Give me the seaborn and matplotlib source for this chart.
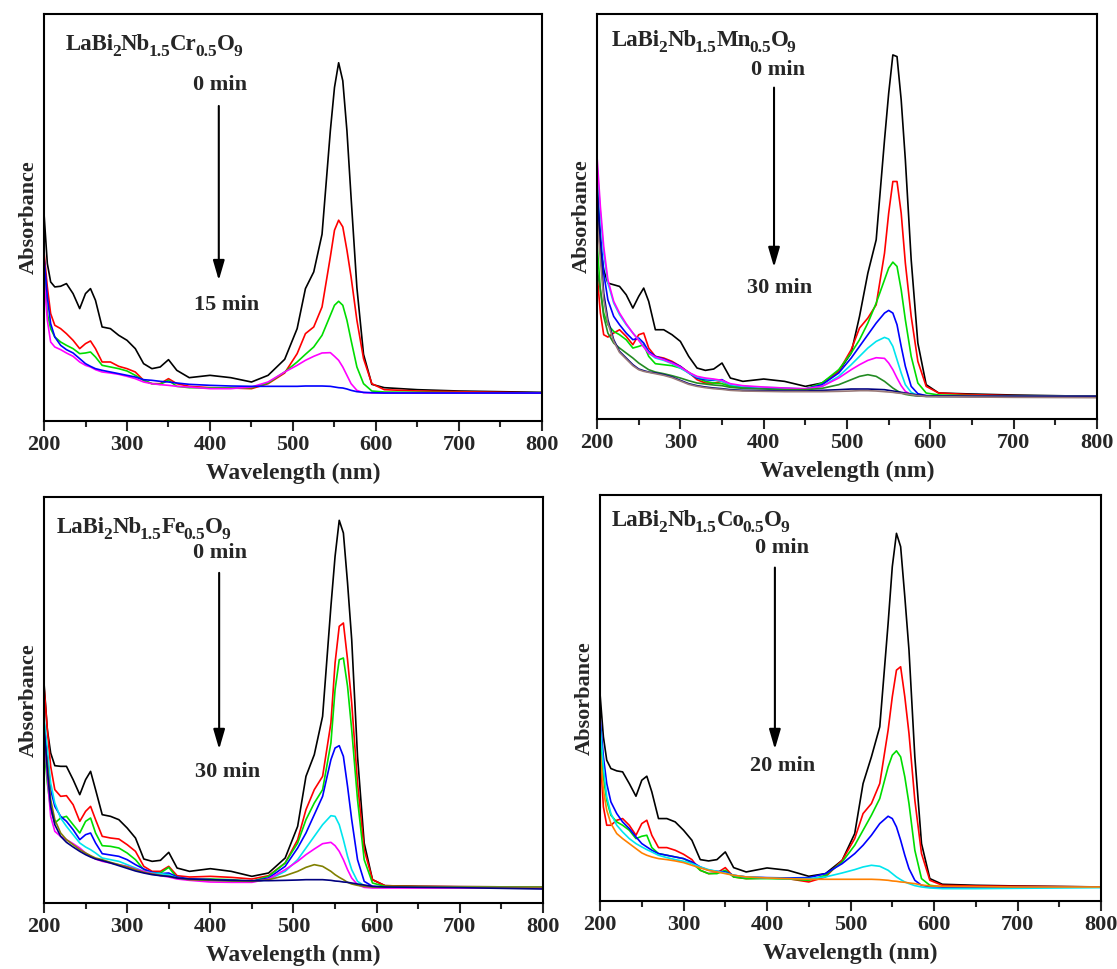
import matplotlib
matplotlib.use("Agg")
import matplotlib.pyplot as plt
import seaborn as sns

# wavelength grid (nm) shared by every spectrum
WL = [200, 204, 208, 213, 220, 227, 235, 243, 250, 256,
      262, 270, 280, 290, 300, 310, 320, 330, 340, 350,
      360, 375, 400, 425, 450, 470, 490, 505, 515, 525,
      535, 545, 550, 555, 560, 565, 570, 577, 585, 595,
      610, 650, 700, 800]

# ---- LaBi2Nb1.5Cr0.5O9 (0 -> 15 min) ----
CR_BLACK = [0.622, 0.472, 0.417, 0.402, 0.404, 0.412, 0.382, 0.337, 0.382, 0.397,
            0.362, 0.282, 0.277, 0.257, 0.242, 0.217, 0.172, 0.157, 0.162, 0.184,
            0.152, 0.130, 0.137, 0.130, 0.117, 0.137, 0.185, 0.277, 0.397, 0.447,
            0.560, 0.870, 1.000, 1.074, 1.020, 0.870, 0.670, 0.400, 0.200, 0.110,
            0.100, 0.094, 0.090, 0.086]
CR_RED = [0.507, 0.402, 0.322, 0.287, 0.277, 0.262, 0.242, 0.217, 0.232, 0.240,
          0.217, 0.177, 0.177, 0.164, 0.157, 0.147, 0.122, 0.112, 0.112, 0.127,
          0.112, 0.104, 0.100, 0.099, 0.097, 0.112, 0.144, 0.202, 0.262, 0.282,
          0.342, 0.492, 0.572, 0.602, 0.582, 0.512, 0.432, 0.302, 0.187, 0.112,
          0.094, 0.090, 0.088, 0.084]
CR_GREEN = [0.462, 0.322, 0.277, 0.252, 0.237, 0.227, 0.217, 0.202, 0.204, 0.207,
            0.192, 0.167, 0.162, 0.157, 0.150, 0.137, 0.122, 0.112, 0.110, 0.122,
            0.104, 0.100, 0.099, 0.099, 0.100, 0.114, 0.147, 0.177, 0.200, 0.222,
            0.257, 0.317, 0.347, 0.359, 0.347, 0.302, 0.242, 0.162, 0.112, 0.090,
            0.087, 0.086, 0.085, 0.084]
CR_MAGENTA = [0.432, 0.302, 0.237, 0.222, 0.214, 0.204, 0.194, 0.177, 0.167, 0.162,
              0.154, 0.147, 0.144, 0.140, 0.134, 0.127, 0.117, 0.112, 0.109, 0.107,
              0.104, 0.102, 0.097, 0.097, 0.102, 0.117, 0.147, 0.167, 0.182, 0.194,
              0.204, 0.205, 0.194, 0.182, 0.162, 0.137, 0.112, 0.092, 0.085, 0.084,
              0.084, 0.084, 0.084, 0.084]
CR_BLUE = [0.492, 0.372, 0.292, 0.252, 0.227, 0.214, 0.204, 0.187, 0.172, 0.164,
           0.157, 0.152, 0.147, 0.142, 0.137, 0.132, 0.124, 0.122, 0.119, 0.117,
           0.114, 0.110, 0.107, 0.105, 0.104, 0.104, 0.104, 0.104, 0.105, 0.105,
           0.105, 0.104, 0.102, 0.100, 0.099, 0.096, 0.092, 0.088, 0.086, 0.085,
           0.084, 0.084, 0.084, 0.084]

# ---- LaBi2Nb1.5Mn0.5O9 (0 -> 30 min) ----
MN_BLACK = [0.620, 0.518, 0.448, 0.408, 0.403, 0.398, 0.373, 0.333, 0.368, 0.393,
            0.353, 0.268, 0.268, 0.253, 0.233, 0.188, 0.153, 0.146, 0.150, 0.168,
            0.123, 0.113, 0.120, 0.113, 0.098, 0.108, 0.143, 0.198, 0.308, 0.438,
            0.538, 0.838, 0.978, 1.093, 1.088, 0.958, 0.778, 0.478, 0.228, 0.103,
            0.078, 0.075, 0.072, 0.068]
MN_RED = [0.438, 0.318, 0.253, 0.246, 0.258, 0.268, 0.248, 0.223, 0.253, 0.258,
          0.213, 0.188, 0.183, 0.173, 0.158, 0.140, 0.118, 0.108, 0.108, 0.113,
          0.100, 0.096, 0.093, 0.092, 0.088, 0.103, 0.143, 0.208, 0.273, 0.303,
          0.343, 0.498, 0.618, 0.713, 0.713, 0.618, 0.468, 0.308, 0.173, 0.098,
          0.078, 0.073, 0.070, 0.068]
MN_GREEN = [0.528, 0.388, 0.318, 0.283, 0.263, 0.253, 0.238, 0.213, 0.218, 0.223,
            0.188, 0.166, 0.163, 0.160, 0.153, 0.140, 0.123, 0.113, 0.108, 0.106,
            0.098, 0.095, 0.093, 0.091, 0.090, 0.108, 0.148, 0.198, 0.238, 0.288,
            0.348, 0.418, 0.453, 0.471, 0.458, 0.388, 0.298, 0.188, 0.108, 0.078,
            0.072, 0.070, 0.069, 0.068]
MN_BLUE = [0.718, 0.558, 0.438, 0.358, 0.308, 0.283, 0.258, 0.238, 0.243, 0.228,
           0.203, 0.188, 0.180, 0.170, 0.158, 0.138, 0.123, 0.118, 0.116, 0.118,
           0.103, 0.098, 0.093, 0.091, 0.090, 0.103, 0.138, 0.183, 0.218, 0.253,
           0.288, 0.318, 0.326, 0.318, 0.283, 0.218, 0.158, 0.098, 0.076, 0.070,
           0.068, 0.068, 0.068, 0.068]
MN_CYAN = [0.760, 0.618, 0.498, 0.408, 0.348, 0.313, 0.283, 0.258, 0.238, 0.218,
           0.198, 0.183, 0.176, 0.166, 0.153, 0.138, 0.126, 0.121, 0.118, 0.113,
           0.103, 0.098, 0.095, 0.093, 0.090, 0.098, 0.128, 0.163, 0.188, 0.213,
           0.233, 0.245, 0.240, 0.218, 0.178, 0.138, 0.103, 0.080, 0.071, 0.068,
           0.068, 0.068, 0.068, 0.068]
MN_MAGENTA = [0.788, 0.638, 0.518, 0.418, 0.353, 0.318, 0.286, 0.258, 0.236, 0.216,
              0.198, 0.186, 0.178, 0.168, 0.156, 0.140, 0.128, 0.123, 0.120, 0.116,
              0.106, 0.100, 0.096, 0.093, 0.091, 0.098, 0.123, 0.148, 0.163, 0.176,
              0.184, 0.182, 0.168, 0.148, 0.123, 0.100, 0.083, 0.073, 0.069, 0.068,
              0.068, 0.068, 0.068, 0.068]
MN_DKGREEN = [0.450, 0.388, 0.308, 0.258, 0.228, 0.213, 0.198, 0.183, 0.168, 0.158,
              0.148, 0.141, 0.136, 0.130, 0.123, 0.115, 0.108, 0.105, 0.102, 0.100,
              0.095, 0.092, 0.090, 0.088, 0.088, 0.092, 0.103, 0.118, 0.128, 0.133,
              0.128, 0.113, 0.103, 0.093, 0.085, 0.078, 0.074, 0.071, 0.069, 0.068,
              0.068, 0.068, 0.068, 0.068]
MN_NAVY = [0.700, 0.518, 0.378, 0.298, 0.238, 0.203, 0.183, 0.163, 0.150, 0.145,
           0.141, 0.138, 0.133, 0.126, 0.116, 0.106, 0.100, 0.096, 0.093, 0.091,
           0.088, 0.086, 0.085, 0.084, 0.084, 0.086, 0.088, 0.090, 0.090, 0.090,
           0.089, 0.088, 0.086, 0.084, 0.082, 0.080, 0.078, 0.075, 0.072, 0.070,
           0.069, 0.068, 0.068, 0.068]
MN_BROWN = [0.600, 0.478, 0.358, 0.288, 0.233, 0.200, 0.180, 0.160, 0.148, 0.143,
            0.140, 0.136, 0.131, 0.124, 0.114, 0.104, 0.098, 0.094, 0.091, 0.089,
            0.086, 0.084, 0.083, 0.082, 0.082, 0.082, 0.083, 0.084, 0.085, 0.085,
            0.084, 0.082, 0.081, 0.080, 0.078, 0.077, 0.076, 0.073, 0.070, 0.068,
            0.067, 0.066, 0.065, 0.064]

# ---- LaBi2Nb1.5Fe0.5O9 (0 -> 30 min) ----
FE_BLACK = [0.660, 0.520, 0.450, 0.412, 0.410, 0.410, 0.370, 0.325, 0.370, 0.395,
            0.340, 0.265, 0.260, 0.250, 0.225, 0.195, 0.132, 0.125, 0.128, 0.152,
            0.105, 0.095, 0.103, 0.095, 0.080, 0.090, 0.135, 0.230, 0.380, 0.445,
            0.560, 0.890, 1.040, 1.148, 1.110, 0.960, 0.790, 0.440, 0.180, 0.070,
            0.052, 0.050, 0.049, 0.048]
FE_RED = [0.650, 0.520, 0.410, 0.340, 0.320, 0.322, 0.295, 0.245, 0.275, 0.290,
          0.250, 0.200, 0.195, 0.192, 0.175, 0.155, 0.110, 0.095, 0.095, 0.110,
          0.082, 0.078, 0.080, 0.077, 0.072, 0.082, 0.120, 0.190, 0.280, 0.340,
          0.380, 0.540, 0.720, 0.830, 0.840, 0.730, 0.600, 0.360, 0.160, 0.070,
          0.052, 0.050, 0.049, 0.048]
FE_GREEN = [0.470, 0.360, 0.280, 0.240, 0.255, 0.260, 0.235, 0.210, 0.245, 0.255,
            0.210, 0.172, 0.170, 0.165, 0.150, 0.130, 0.100, 0.088, 0.090, 0.107,
            0.075, 0.070, 0.072, 0.070, 0.065, 0.080, 0.120, 0.180, 0.250, 0.300,
            0.340, 0.480, 0.640, 0.730, 0.735, 0.650, 0.520, 0.310, 0.130, 0.060,
            0.050, 0.049, 0.048, 0.048]
FE_BLUE = [0.540, 0.440, 0.340, 0.290, 0.260, 0.245, 0.220, 0.190, 0.205, 0.210,
           0.180, 0.148, 0.144, 0.140, 0.130, 0.115, 0.102, 0.092, 0.088, 0.090,
           0.078, 0.072, 0.070, 0.068, 0.065, 0.075, 0.110, 0.165, 0.210, 0.265,
           0.320, 0.430, 0.465, 0.472, 0.440, 0.350, 0.250, 0.130, 0.065, 0.050,
           0.048, 0.048, 0.048, 0.048]
FE_CYAN = [0.560, 0.460, 0.360, 0.300, 0.255, 0.230, 0.205, 0.180, 0.168, 0.160,
           0.150, 0.135, 0.130, 0.125, 0.115, 0.105, 0.095, 0.090, 0.088, 0.085,
           0.075, 0.070, 0.068, 0.066, 0.064, 0.070, 0.095, 0.130, 0.165, 0.200,
           0.235, 0.262, 0.260, 0.235, 0.190, 0.140, 0.100, 0.065, 0.052, 0.048,
           0.048, 0.048, 0.048, 0.048]
FE_MAGENTA = [0.520, 0.380, 0.260, 0.215, 0.200, 0.190, 0.178, 0.165, 0.150, 0.140,
              0.132, 0.125, 0.120, 0.115, 0.110, 0.102, 0.095, 0.088, 0.082, 0.078,
              0.072, 0.068, 0.063, 0.062, 0.062, 0.072, 0.100, 0.125, 0.145, 0.162,
              0.178, 0.182, 0.172, 0.155, 0.130, 0.100, 0.075, 0.055, 0.047, 0.045,
              0.045, 0.045, 0.045, 0.045]
FE_OLIVE = [0.500, 0.420, 0.310, 0.250, 0.210, 0.190, 0.175, 0.160, 0.150, 0.142,
            0.135, 0.130, 0.122, 0.115, 0.108, 0.100, 0.092, 0.087, 0.083, 0.080,
            0.075, 0.070, 0.068, 0.066, 0.065, 0.070, 0.082, 0.095, 0.107, 0.115,
            0.110, 0.095, 0.085, 0.077, 0.070, 0.062, 0.057, 0.053, 0.050, 0.048,
            0.048, 0.048, 0.048, 0.048]
FE_NAVY = [0.530, 0.400, 0.290, 0.235, 0.200, 0.182, 0.168, 0.155, 0.145, 0.138,
           0.132, 0.127, 0.120, 0.112, 0.104, 0.096, 0.090, 0.085, 0.082, 0.080,
           0.075, 0.072, 0.070, 0.068, 0.067, 0.067, 0.068, 0.069, 0.070, 0.070,
           0.070, 0.068, 0.066, 0.065, 0.063, 0.062, 0.060, 0.057, 0.054, 0.050,
           0.048, 0.047, 0.046, 0.042]

# ---- LaBi2Nb1.5Co0.5O9 (0 -> 20 min) ----
CO_BLACK = [0.620, 0.492, 0.422, 0.397, 0.390, 0.387, 0.352, 0.314, 0.362, 0.374,
            0.327, 0.247, 0.247, 0.237, 0.212, 0.182, 0.124, 0.120, 0.124, 0.147,
            0.100, 0.087, 0.099, 0.092, 0.074, 0.082, 0.122, 0.202, 0.352, 0.432,
            0.522, 0.832, 1.002, 1.102, 1.062, 0.912, 0.752, 0.432, 0.172, 0.067,
            0.050, 0.047, 0.045, 0.042]
CO_RED = [0.450, 0.282, 0.227, 0.227, 0.242, 0.247, 0.227, 0.197, 0.232, 0.242,
          0.197, 0.160, 0.160, 0.152, 0.140, 0.124, 0.092, 0.082, 0.084, 0.100,
          0.072, 0.067, 0.069, 0.067, 0.057, 0.072, 0.122, 0.187, 0.262, 0.292,
          0.352, 0.512, 0.612, 0.692, 0.702, 0.612, 0.502, 0.302, 0.142, 0.062,
          0.047, 0.045, 0.044, 0.042]
CO_GREEN = [0.520, 0.372, 0.302, 0.257, 0.237, 0.227, 0.212, 0.187, 0.194, 0.197,
            0.160, 0.142, 0.137, 0.132, 0.127, 0.114, 0.092, 0.082, 0.082, 0.092,
            0.072, 0.067, 0.067, 0.066, 0.062, 0.077, 0.117, 0.167, 0.212, 0.257,
            0.307, 0.402, 0.437, 0.450, 0.432, 0.372, 0.292, 0.152, 0.067, 0.047,
            0.042, 0.042, 0.042, 0.042]
CO_BLUE = [0.550, 0.432, 0.352, 0.297, 0.262, 0.237, 0.217, 0.192, 0.172, 0.162,
           0.152, 0.142, 0.137, 0.132, 0.127, 0.117, 0.102, 0.092, 0.089, 0.087,
           0.077, 0.072, 0.070, 0.069, 0.070, 0.082, 0.112, 0.142, 0.167, 0.197,
           0.232, 0.254, 0.247, 0.222, 0.182, 0.137, 0.097, 0.062, 0.047, 0.042,
           0.042, 0.042, 0.042, 0.042]
CO_CYAN = [0.530, 0.402, 0.312, 0.262, 0.227, 0.207, 0.187, 0.172, 0.162, 0.154,
           0.147, 0.137, 0.130, 0.124, 0.119, 0.112, 0.102, 0.094, 0.089, 0.084,
           0.077, 0.072, 0.069, 0.067, 0.067, 0.072, 0.084, 0.094, 0.102, 0.107,
           0.104, 0.092, 0.082, 0.072, 0.064, 0.057, 0.052, 0.046, 0.042, 0.039,
           0.037, 0.037, 0.038, 0.040]
CO_ORANGE = [0.450, 0.332, 0.272, 0.232, 0.202, 0.187, 0.172, 0.157, 0.144, 0.137,
             0.132, 0.127, 0.124, 0.120, 0.115, 0.107, 0.099, 0.092, 0.087, 0.082,
             0.077, 0.072, 0.069, 0.067, 0.065, 0.065, 0.065, 0.065, 0.065, 0.065,
             0.064, 0.062, 0.060, 0.059, 0.057, 0.056, 0.054, 0.052, 0.048, 0.045,
             0.044, 0.043, 0.042, 0.042]


def formula(metal):
    # (text, is_subscript) pieces of LaBi2Nb1.5M0.5O9
    return [("LaBi", False), ("2", True), ("Nb", False), ("1.5", True),
            (metal, False), ("0.5", True), ("O", False), ("9", True)]


PANELS = [
    dict(title=formula("Cr"), end="15 min", ytop=1.220,
         rect=[0.0394, 0.5655, 0.4458, 0.4200],
         text=(0.044, 0.899), start=(0.353, 0.826), arrow=(0.351, 0.781, 0.339), stop=(0.367, 0.285),
         curves=[(CR_BLACK, "black"), (CR_RED, "#ff0000"), (CR_GREEN, "#00dd00"),
                 (CR_MAGENTA, "#ff00ff"), (CR_BLUE, "#0000ff")]),
    dict(title=formula("Mn"), end="30 min", ytop=1.216,
         rect=[0.5345, 0.5676, 0.4476, 0.4180],
         text=(0.030, 0.909), start=(0.362, 0.862), arrow=(0.354, 0.825, 0.368), stop=(0.366, 0.323),
         curves=[(MN_BLACK, "black"), (MN_RED, "#ff0000"), (MN_GREEN, "#00dd00"),
                 (MN_BLUE, "#0000ff"), (MN_CYAN, "#00e5ee"), (MN_MAGENTA, "#ff00ff"),
                 (MN_DKGREEN, "#238b23"), (MN_NAVY, "#000080"), (MN_BROWN, "#9a7a78")]),
    dict(title=formula("Fe"), end="30 min", ytop=1.218,
         rect=[0.0394, 0.0681, 0.4467, 0.4190],
         text=(0.026, 0.899), start=(0.353, 0.862), arrow=(0.351, 0.820, 0.372), stop=(0.367, 0.323),
         curves=[(FE_BLACK, "black"), (FE_RED, "#ff0000"), (FE_GREEN, "#00dd00"),
                 (FE_BLUE, "#0000ff"), (FE_CYAN, "#00e5ee"), (FE_MAGENTA, "#ff00ff"),
                 (FE_OLIVE, "#808000"), (FE_NAVY, "#000080")]),
    dict(title=formula("Co"), end="20 min", ytop=1.217,
         rect=[0.5372, 0.0702, 0.4485, 0.4190],
         text=(0.024, 0.911), start=(0.363, 0.869), arrow=(0.349, 0.828, 0.367), stop=(0.365, 0.333),
         curves=[(CO_BLACK, "black"), (CO_RED, "#ff0000"), (CO_GREEN, "#00dd00"),
                 (CO_BLUE, "#0000ff"), (CO_CYAN, "#00e5ee"), (CO_ORANGE, "#ff8000")]),
]

sns.set_style("ticks")
plt.rcParams["font.family"] = ["Liberation Serif", "DejaVu Serif"]
plt.rcParams["font.weight"] = "bold"

fig = plt.figure(figsize=(11.17, 9.69), dpi=100)


def draw_formula(ax, x, y, pieces):
    first = ax.text(x, y, pieces[0][0], transform=ax.transAxes, fontsize=16.5,
                    fontweight="bold", ha="left", va="bottom")
    prev = first
    for s, sub in pieces[1:]:
        prev = ax.annotate(s, xy=(1, 0), xycoords=(prev, first),
                           xytext=(-1.2 if sub else 0, -3.8 if sub else 0),
                           textcoords="offset points",
                           fontsize=12.5 if sub else 16.5, fontweight="bold",
                           ha="left", va="bottom")


for p in PANELS:
    ax = fig.add_axes(p["rect"])
    for vals, col in p["curves"]:
        sns.lineplot(x=WL, y=vals, color=col, lw=1.2, ax=ax, estimator=None, sort=False)

    ax.set_xlim(200, 800)
    ax.set_ylim(0, p["ytop"])
    ax.set_xticks(range(200, 801, 100))
    ax.set_xticks(range(250, 800, 100), minor=True)
    ax.set_yticks([])
    ax.tick_params(axis="x", which="major", direction="out", length=7, width=1.5,
                   labelsize=16, pad=3)
    ax.tick_params(axis="x", which="minor", direction="out", length=4, width=1.5)
    for lab in ax.get_xticklabels():
        lab.set_fontweight("bold")
    for s in ax.spines.values():
        s.set_linewidth(1.5)
        s.set_color("black")

    ax.set_xlabel("Wavelength (nm)", fontsize=17, fontweight="bold", labelpad=6)
    ax.set_ylabel("Absorbance", fontsize=16, fontweight="bold", labelpad=4)

    draw_formula(ax, *p["text"], p["title"])
    ax.text(*p["start"], "0 min", transform=ax.transAxes, fontsize=16,
            fontweight="bold", ha="center", va="center")
    ax.text(*p["stop"], p["end"], transform=ax.transAxes, fontsize=16,
            fontweight="bold", ha="center", va="center")
    ax_x, y0, y1 = p["arrow"]
    ax.annotate("", xy=(ax_x, y1), xytext=(ax_x, y0), xycoords="axes fraction",
                arrowprops=dict(arrowstyle="-|>,head_length=1.2,head_width=0.35",
                                color="black", lw=1.5))

fig.savefig("out.png", dpi=100)
plt.close(fig)
